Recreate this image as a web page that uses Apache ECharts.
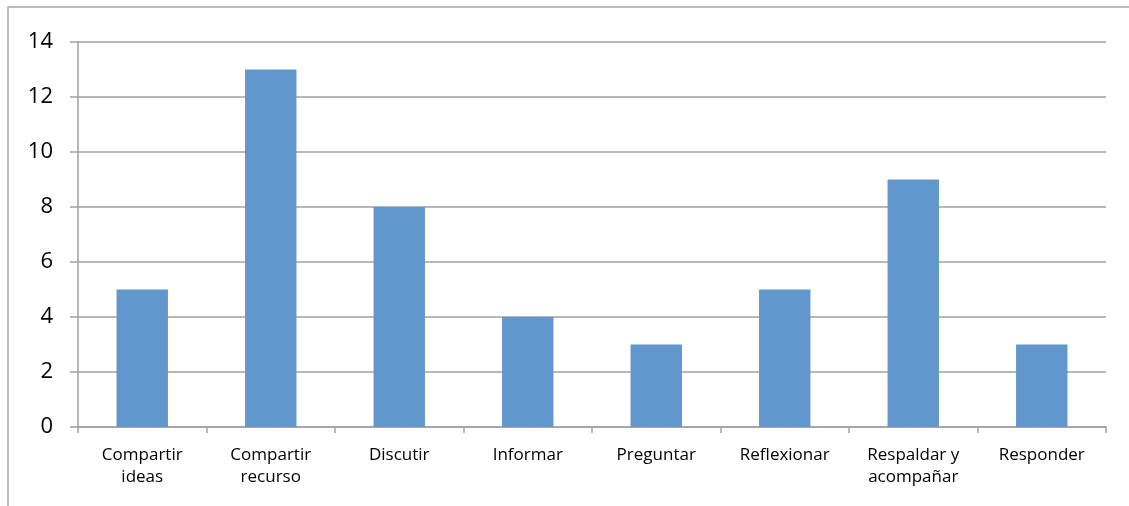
<!DOCTYPE html>
<html>
<head>
<meta charset="utf-8">
<script src="https://cdn.jsdelivr.net/npm/echarts@6/dist/echarts.min.js"></script>
<style>
  html, body { margin: 0; padding: 0; background: #fff; }
  #chart { width: 1129px; height: 506px; }
</style>
</head>
<body>
<div id="chart"></div>
<script>
// categorias y valores
var categories = ['Compartir\nideas', 'Compartir\nrecurso', 'Discutir', 'Informar', 'Preguntar', 'Reflexionar', 'Respaldar y\nacompañar', 'Responder'];
var values = [5, 13, 8, 4, 3, 5, 9, 3];
var yTicks = [0, 2, 4, 6, 8, 10, 12, 14];

var chart = echarts.init(document.getElementById('chart'));
var option = {
  animation: false,
  textStyle: { fontFamily: 'Open Sans, Liberation Sans, sans-serif' },
  // marco del grafico
  graphic: [{
    type: 'rect',
    shape: { x: 8, y: 7, width: 1200, height: 600 },
    style: { fill: 'none', stroke: '#a6a6a6', lineWidth: 1.5 },
    silent: true
  }],
  grid: { left: 78, right: 23, top: 42, bottom: 79 },
  xAxis: {
    type: 'category',
    data: categories,
    axisLine: { lineStyle: { color: '#a0a0a0', width: 1.5 } },
    axisTick: { show: true, length: 6, lineStyle: { color: '#a0a0a0', width: 1.5 } },
    axisLabel: { color: '#000', fontSize: 17, lineHeight: 22, margin: 17, interval: 0 }
  },
  yAxis: {
    type: 'value',
    min: yTicks[0],
    max: yTicks[yTicks.length - 1],
    interval: 2,
    axisLine: { show: true, lineStyle: { color: '#a0a0a0', width: 1.5 } },
    axisTick: { show: true, length: 8, lineStyle: { color: '#a0a0a0', width: 1.5 } },
    axisLabel: { color: '#000', fontSize: 22, margin: 25 },
    splitLine: { lineStyle: { color: '#a0a0a0', width: 1.5 } }
  },
  series: [{
    type: 'bar',
    data: values,
    barWidth: '40%',
    itemStyle: { color: '#6197cc' }
  }]
};
chart.setOption(option);
</script>
</body>
</html>
